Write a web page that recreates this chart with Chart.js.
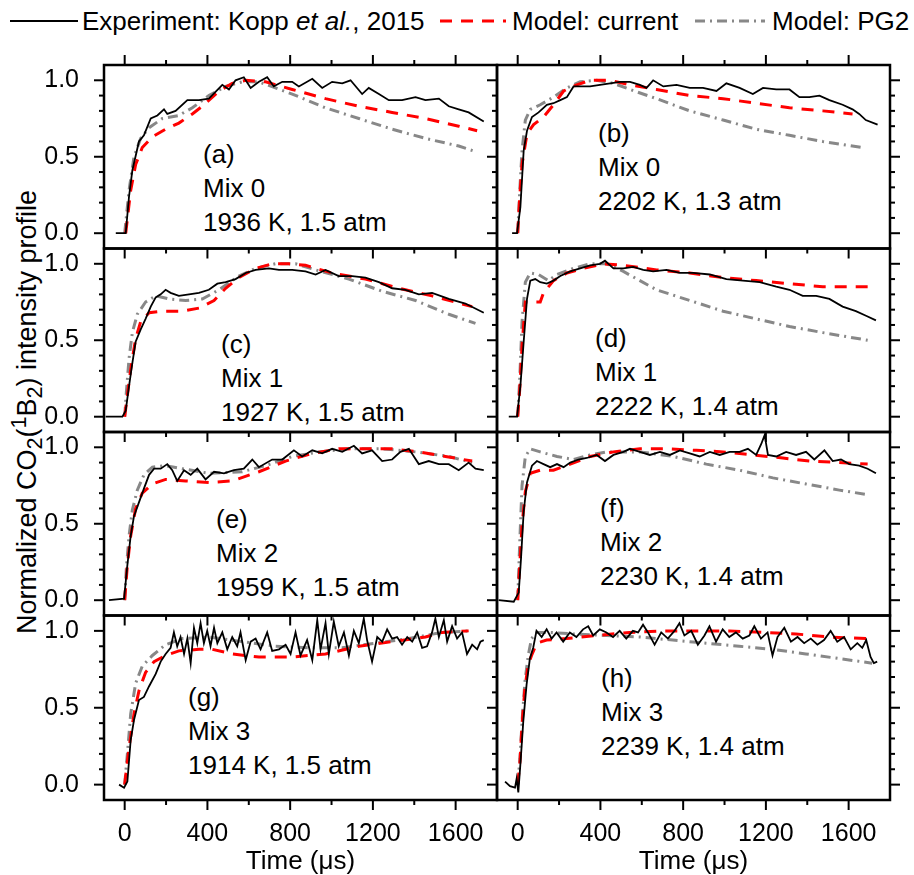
<!DOCTYPE html>
<html lang="en">
<head>
<meta charset="UTF-8">
<title>Normalized CO2(1B2) intensity profiles</title>
<style>
  body { margin: 0; background: #fff; font-family: "Liberation Sans", Arial, sans-serif; color: #000; }
  #wrap { position: relative; width: 914px; height: 875px; overflow: hidden; }
  #wrap canvas { position: absolute; left: 0; top: 0; }
  .leg { position: absolute; top: 6px; font-size: 26px; line-height: 30px; white-space: nowrap; }
  .legline { position: absolute; top: 16px; }
  .note { position: absolute; font-size: 26px; line-height: 34px; white-space: nowrap; }
  .ytitle { position: absolute; left: 27px; top: 412px; font-size: 27px; white-space: nowrap;
            transform: translate(-50%, -50%) rotate(-90deg); }
  .ytitle sub, .ytitle sup { font-size: 0.8em; line-height: 0; }
</style>
</head>
<body>
<div id="wrap">
  <svg class="legline" style="left:10px" width="68" height="10"><line x1="0" y1="5" x2="68" y2="5" stroke="#000" stroke-width="2"/></svg>
  <div class="leg" style="left:82px">Experiment: Kopp <i>et al.</i>, 2015</div>
  <svg class="legline" style="left:440px" width="66" height="10"><line x1="0" y1="5" x2="66" y2="5" stroke="#ff0000" stroke-width="3" stroke-dasharray="12 9"/></svg>
  <div class="leg" style="left:512px">Model: current</div>
  <svg class="legline" style="left:695px" width="70" height="10"><line x1="0" y1="5" x2="70" y2="5" stroke="#888" stroke-width="3" stroke-dasharray="10 5 2 5"/></svg>
  <div class="leg" style="left:772px">Model: PG2</div>

  <div class="ytitle">Normalized CO<sub>2</sub>(<sup>1</sup>B<sub>2</sub>) intensity profile</div>

  <div class="note" style="left:203px; top:137px">(a)<br>Mix 0<br>1936 K, 1.5 atm</div>
  <div class="note" style="left:598px; top:116px">(b)<br>Mix 0<br>2202 K, 1.3 atm</div>
  <div class="note" style="left:221px; top:327px">(c)<br>Mix 1<br>1927 K, 1.5 atm</div>
  <div class="note" style="left:595px; top:321px">(d)<br>Mix 1<br>2222 K, 1.4 atm</div>
  <div class="note" style="left:216px; top:502px">(e)<br>Mix 2<br>1959 K, 1.5 atm</div>
  <div class="note" style="left:600px; top:491px">(f)<br>Mix 2<br>2230 K, 1.4 atm</div>
  <div class="note" style="left:188px; top:680px">(g)<br>Mix 3<br>1914 K, 1.5 atm</div>
  <div class="note" style="left:601px; top:661px">(h)<br>Mix 3<br>2239 K, 1.4 atm</div>
</div>

<script src="https://cdn.jsdelivr.net/npm/chart.js"></script>
<script>
  // axis ticks
  const xMajor = [0, 400, 800, 1200, 1600];
  const xMinor = [200, 600, 1000, 1400];
  const yMajor = [0, 0.5, 1.0];
  const yMinor = [0.1, 0.2, 0.3, 0.4, 0.6, 0.7, 0.8, 0.9];

  // [time (us), normalized intensity]
  const expA = [[-43,0],[5,0],[21,0.24],[37,0.41],[69,0.60],[93,0.64],[126,0.75],[158,0.77],[190,0.81],[206,0.78],[246,0.80],[303,0.87],[359,0.87],[407,0.88],[472,0.97],[504,0.94],[536,1.00],[576,1.02],[609,0.95],[649,0.99],[689,1.02],[721,0.96],[762,0.99],[810,0.99],[842,0.96],[907,1.01],[955,0.95],[1003,0.99],[1052,0.98],[1092,1.00],[1148,0.91],[1180,0.95],[1229,0.91],[1277,0.87],[1341,0.87],[1406,0.89],[1454,0.87],[1519,0.88],[1567,0.83],[1615,0.81],[1663,0.79],[1736,0.73]];
  const curA = [[5,0],[29,0.28],[53,0.45],[85,0.56],[134,0.63],[198,0.68],[262,0.72],[327,0.78],[375,0.83],[456,0.93],[520,0.98],[585,1.00],[681,0.99],[810,0.94],[971,0.88],[1132,0.83],[1293,0.79],[1454,0.75],[1615,0.70],[1704,0.67]];
  const pg2A = [[0,0],[21,0.28],[45,0.50],[77,0.62],[118,0.69],[182,0.75],[262,0.77],[327,0.82],[407,0.90],[488,0.96],[568,0.99],[649,0.99],[729,0.95],[810,0.91],[971,0.82],[1132,0.75],[1293,0.68],[1454,0.62],[1615,0.57],[1704,0.53]];

  const expB = [[-27,0],[-3,0],[13,0.17],[29,0.54],[45,0.67],[69,0.76],[101,0.79],[141,0.84],[173,0.85],[206,0.87],[238,0.89],[270,0.96],[302,0.96],[350,0.96],[398,0.97],[447,0.98],[495,0.99],[543,0.99],[591,0.97],[623,0.95],[655,1.00],[704,0.96],[768,0.97],[832,0.95],[896,0.95],[961,0.93],[1009,0.98],[1073,0.95],[1137,0.91],[1186,0.95],[1250,0.94],[1314,0.94],[1362,0.89],[1410,0.89],[1459,0.90],[1507,0.87],[1571,0.84],[1619,0.81],[1651,0.78],[1683,0.74],[1740,0.71]];
  const curB = [[0,0],[10,0.24],[21,0.45],[45,0.65],[77,0.71],[125,0.76],[173,0.84],[222,0.93],[286,0.97],[350,1.00],[447,1.00],[543,0.97],[671,0.94],[832,0.90],[993,0.88],[1153,0.85],[1314,0.82],[1475,0.80],[1619,0.78]];
  const pg2B = [[0,0],[10,0.28],[21,0.54],[37,0.74],[61,0.81],[109,0.84],[173,0.89],[238,0.95],[302,0.99],[382,1.00],[463,0.98],[543,0.94],[671,0.88],[832,0.80],[993,0.74],[1153,0.68],[1314,0.64],[1475,0.60],[1667,0.56]];

  const expC = [[-92,0],[-11,0],[5,0.04],[21,0.20],[37,0.35],[53,0.49],[77,0.57],[101,0.64],[126,0.72],[150,0.78],[174,0.80],[198,0.83],[222,0.81],[262,0.79],[311,0.80],[359,0.81],[407,0.83],[448,0.87],[488,0.88],[536,0.90],[585,0.94],[633,0.96],[697,0.97],[746,0.96],[810,0.96],[874,0.95],[923,0.93],[971,0.96],[1035,0.92],[1100,0.92],[1164,0.91],[1229,0.88],[1293,0.84],[1357,0.83],[1422,0.80],[1486,0.81],[1567,0.77],[1647,0.74],[1736,0.68]];
  const curC = [[0,0],[13,0.14],[29,0.31],[53,0.51],[77,0.62],[118,0.68],[182,0.69],[279,0.69],[359,0.71],[432,0.76],[488,0.84],[552,0.91],[633,0.97],[713,1.00],[794,1.00],[874,0.99],[1003,0.94],[1164,0.90],[1325,0.84],[1486,0.79],[1680,0.72]];
  const pg2C = [[0,0],[8,0.16],[21,0.38],[37,0.55],[61,0.67],[101,0.75],[150,0.79],[214,0.77],[295,0.76],[375,0.77],[456,0.83],[552,0.92],[633,0.97],[729,1.00],[826,1.00],[923,0.96],[1084,0.90],[1245,0.82],[1406,0.76],[1567,0.67],[1696,0.61]];

  const expD = [[-43,0],[-3,0],[13,0.20],[29,0.49],[45,0.77],[61,0.89],[85,0.90],[109,0.88],[141,0.87],[173,0.89],[206,0.92],[254,0.95],[302,0.97],[350,0.99],[398,1.00],[422,1.02],[463,0.97],[511,0.97],[559,0.98],[607,0.96],[655,0.95],[720,0.96],[784,0.94],[848,0.94],[929,0.93],[1009,0.90],[1089,0.89],[1170,0.88],[1250,0.85],[1314,0.83],[1378,0.79],[1443,0.79],[1507,0.77],[1571,0.72],[1635,0.69],[1684,0.66],[1732,0.63]];
  const curD = [[0,0],[10,0.18],[21,0.46],[37,0.75],[61,0.75],[109,0.75],[125,0.81],[173,0.89],[238,0.94],[318,0.97],[414,1.00],[511,0.99],[671,0.96],[832,0.94],[993,0.91],[1153,0.89],[1314,0.87],[1475,0.85],[1692,0.85]];
  const pg2D = [[0,0],[10,0.25],[21,0.62],[37,0.88],[61,0.94],[101,0.93],[149,0.89],[190,0.93],[270,0.97],[350,1.00],[430,1.00],[511,0.95],[591,0.89],[671,0.83],[832,0.76],[993,0.69],[1153,0.64],[1314,0.59],[1475,0.55],[1692,0.50]];

  const expE = [[-76,0],[-3,0.01],[13,0.23],[29,0.42],[45,0.55],[69,0.64],[93,0.73],[118,0.82],[142,0.86],[174,0.86],[206,0.89],[230,0.85],[254,0.78],[287,0.85],[319,0.82],[351,0.86],[391,0.79],[432,0.84],[480,0.83],[528,0.85],[576,0.86],[617,0.92],[649,0.87],[713,0.92],[762,0.92],[818,0.98],[858,0.94],[907,0.98],[955,0.96],[1003,0.99],[1052,0.97],[1108,1.01],[1148,0.96],[1196,0.98],[1245,0.91],[1293,0.92],[1333,0.97],[1374,0.99],[1422,0.89],[1470,0.91],[1519,0.89],[1567,0.89],[1615,0.85],[1663,0.90],[1696,0.86],[1736,0.85]];
  const curE = [[0,0],[13,0.23],[29,0.42],[53,0.60],[85,0.70],[134,0.76],[198,0.79],[295,0.78],[407,0.77],[520,0.78],[649,0.84],[778,0.91],[907,0.96],[1035,0.99],[1164,0.99],[1293,0.99],[1422,0.97],[1551,0.94],[1680,0.91]];
  const pg2E = [[0,0],[8,0.21],[21,0.42],[37,0.59],[61,0.72],[93,0.82],[134,0.87],[198,0.88],[279,0.86],[407,0.83],[568,0.84],[681,0.88],[810,0.94],[939,0.97],[1084,0.99],[1245,0.99],[1406,0.97],[1567,0.94],[1680,0.90]];

  const expF = [[-92,0],[-19,-0.01],[5,0.05],[16,0.27],[29,0.58],[45,0.77],[69,0.88],[93,0.91],[125,0.89],[157,0.87],[190,0.89],[222,0.87],[254,0.90],[294,0.92],[334,0.93],[382,0.95],[422,0.91],[463,0.95],[511,0.97],[543,0.99],[591,0.97],[639,0.95],[688,0.97],[736,0.95],[784,0.98],[832,0.96],[880,0.94],[929,0.97],[977,0.95],[1025,0.97],[1073,0.97],[1113,0.99],[1153,0.95],[1177,1.02],[1194,1.08],[1210,0.95],[1250,0.94],[1298,0.97],[1346,0.95],[1394,0.97],[1434,0.92],[1483,0.98],[1523,0.91],[1563,0.92],[1603,0.89],[1651,0.88],[1692,0.86],[1732,0.83]];
  const curF = [[0,0],[10,0.23],[21,0.49],[37,0.71],[61,0.83],[109,0.85],[173,0.85],[254,0.89],[350,0.94],[463,0.97],[591,0.99],[720,0.99],[864,0.98],[993,0.97],[1137,0.95],[1282,0.93],[1410,0.91],[1555,0.90],[1692,0.89]];
  const pg2F = [[0,0],[10,0.38],[21,0.75],[37,0.94],[61,0.99],[109,0.97],[190,0.94],[270,0.92],[350,0.95],[430,0.97],[511,0.97],[591,0.97],[752,0.94],[912,0.89],[1073,0.85],[1234,0.80],[1394,0.76],[1555,0.72],[1692,0.69]];

  const expG = [[-27,0],[-3,-0.02],[13,0.02],[29,0.29],[45,0.42],[69,0.55],[93,0.57],[118,0.64],[150,0.72],[174,0.80],[198,0.85],[222,0.89],[238,0.99],[254,0.90],[270,0.96],[287,0.85],[303,0.95],[319,0.79],[335,1.02],[351,0.92],[367,1.05],[383,0.92],[399,1.00],[415,0.90],[432,1.02],[448,0.92],[472,0.99],[496,0.88],[520,0.96],[544,0.90],[560,0.99],[585,0.81],[609,0.93],[633,0.95],[657,0.88],[689,0.99],[713,0.87],[746,0.88],[778,0.91],[802,0.85],[826,0.99],[850,0.84],[882,0.94],[907,0.81],[931,1.07],[947,0.88],[971,1.05],[987,0.85],[1011,1.06],[1035,0.90],[1060,0.99],[1084,0.84],[1108,1.00],[1132,0.92],[1156,1.08],[1172,0.94],[1196,0.80],[1221,0.96],[1245,0.93],[1269,1.01],[1293,0.95],[1317,0.96],[1341,0.91],[1366,0.96],[1390,0.93],[1414,0.99],[1438,0.89],[1462,0.90],[1486,0.99],[1502,1.08],[1519,0.96],[1543,1.07],[1559,0.93],[1583,1.03],[1607,0.95],[1631,0.99],[1655,0.85],[1680,0.91],[1704,0.88],[1720,0.93],[1736,0.94]];
  const curG = [[0,0],[5,0.06],[21,0.24],[45,0.46],[69,0.61],[101,0.73],[142,0.80],[198,0.84],[262,0.87],[359,0.88],[424,0.88],[520,0.85],[649,0.83],[810,0.83],[971,0.85],[1132,0.90],[1293,0.93],[1454,0.96],[1535,0.99],[1663,1.00]];
  const pg2G = [[0,0],[13,0.20],[29,0.46],[53,0.66],[85,0.77],[134,0.84],[198,0.91],[279,0.95],[407,0.96],[568,0.93],[729,0.90],[890,0.89],[1052,0.89],[1213,0.92],[1374,0.95],[1535,0.99],[1680,1.00]];

  const expH = [[-61,0.02],[-37,-0.01],[-13,-0.02],[-5,0.04],[3,-0.05],[14,0.15],[27,0.41],[43,0.65],[59,0.82],[75,0.89],[91,1.00],[116,0.96],[140,1.01],[164,0.95],[188,0.99],[220,0.93],[252,0.99],[284,0.96],[316,1.01],[341,1.03],[365,0.97],[397,1.01],[429,0.99],[461,0.96],[493,1.00],[525,0.95],[557,1.00],[582,0.99],[606,1.04],[630,0.99],[662,0.91],[694,0.99],[726,0.95],[758,1.00],[782,1.05],[806,0.97],[839,1.00],[871,0.91],[903,0.97],[927,1.03],[959,0.93],[991,1.01],[1023,0.96],[1055,0.99],[1088,0.95],[1120,0.97],[1144,1.03],[1176,0.95],[1208,0.99],[1232,0.84],[1256,0.96],[1289,1.02],[1321,0.93],[1353,0.96],[1385,0.92],[1417,0.95],[1449,0.91],[1481,0.94],[1513,1.00],[1545,0.93],[1578,0.96],[1610,0.88],[1642,0.92],[1666,0.89],[1685,0.94],[1706,0.83],[1722,0.79],[1738,0.80]];
  const curH = [[0,0],[11,0.15],[22,0.41],[35,0.63],[51,0.78],[67,0.84],[92,0.92],[140,0.94],[236,0.95],[381,0.97],[541,0.99],[702,1.00],[863,1.00],[1023,1.00],[1184,0.99],[1345,0.98],[1505,0.96],[1690,0.95]];
  const pg2H = [[0,0],[11,0.17],[22,0.43],[35,0.67],[51,0.84],[67,0.95],[92,0.99],[156,0.99],[268,0.98],[429,0.97],[590,0.96],[750,0.94],[911,0.92],[1071,0.90],[1232,0.88],[1393,0.85],[1553,0.82],[1714,0.79]];

  // panel frames in page pixels
  const colEdges = [[104, 497], [497, 890]];
  const rowEdges = [65, 248.5, 432, 615.5, 800];

  const panels = [
    { exp: expA, cur: curA, pg2: pg2A, col: 0, row: 0 },
    { exp: expB, cur: curB, pg2: pg2B, col: 1, row: 0 },
    { exp: expC, cur: curC, pg2: pg2C, col: 0, row: 1 },
    { exp: expD, cur: curD, pg2: pg2D, col: 1, row: 1 },
    { exp: expE, cur: curE, pg2: pg2E, col: 0, row: 2 },
    { exp: expF, cur: curF, pg2: pg2F, col: 1, row: 2 },
    { exp: expG, cur: curG, pg2: pg2G, col: 0, row: 3 },
    { exp: expH, cur: curH, pg2: pg2H, col: 1, row: 3 }
  ];

  Chart.defaults.font.family = '"Liberation Sans", Arial, sans-serif';
  Chart.defaults.color = '#000';

  // box around each panel plus outward major/minor ticks
  const frameTicks = {
    id: 'frameTicks',
    afterDraw(chart, args, opts) {
      const { ctx, chartArea: a, scales: { x, y } } = chart;
      const seg = (x1, y1, x2, y2) => { ctx.beginPath(); ctx.moveTo(x1, y1); ctx.lineTo(x2, y2); ctx.stroke(); };
      ctx.save();
      ctx.strokeStyle = '#000';
      ctx.lineWidth = 2.5;
      ctx.strokeRect(a.left, a.top, a.right - a.left, a.bottom - a.top);
      ctx.lineWidth = 2;
      const xt = xMajor.map(v => [v, 10]).concat(xMinor.map(v => [v, 5]));
      const yt = yMajor.map(v => [v, 10]).concat(yMinor.map(v => [v, 5]));
      xt.forEach(([v, len]) => {
        const px = x.getPixelForValue(v);
        seg(px, a.bottom, px, a.bottom + len);
        if (opts.top) seg(px, a.top, px, a.top - len);
      });
      yt.forEach(([v, len]) => {
        const py = y.getPixelForValue(v);
        seg(a.left, py, a.left - len, py);
        if (opts.right) seg(a.right, py, a.right + len, py);
      });
      ctx.restore();
    }
  };

  const toXY = pts => pts.map(([x, y]) => ({ x, y }));

  function makePanel(p) {
    const [l, r] = colEdges[p.col];
    const t = rowEdges[p.row], b = rowEdges[p.row + 1];
    const isLeft = p.col === 0;
    const isBottom = p.row === 3;

    const cv = document.createElement('canvas');
    cv.width = 914;
    cv.height = 875;
    document.getElementById('wrap').appendChild(cv);

    new Chart(cv, {
      type: 'line',
      data: {
        datasets: [
          { label: 'Experiment', data: toXY(p.exp), borderColor: '#000', borderWidth: 1.8 },
          { label: 'Model: current', data: toXY(p.cur), borderColor: '#ff0000', borderWidth: 3, borderDash: [12, 9] },
          { label: 'Model: PG2', data: toXY(p.pg2), borderColor: '#888', borderWidth: 3, borderDash: [10, 5, 2, 5] }
        ]
      },
      options: {
        responsive: false,
        animation: false,
        events: [],
        layout: {
          padding: { left: isLeft ? 0 : l, right: 914 - r, top: t, bottom: isBottom ? 0 : 875 - b }
        },
        elements: { point: { radius: 0 }, line: { tension: 0, fill: false } },
        plugins: {
          legend: { display: false },
          tooltip: { enabled: false },
          frameTicks: { top: p.row === 0, right: p.col === 1 }
        },
        scales: {
          x: {
            type: 'linear', min: -100, max: 1800,
            grid: { display: false }, border: { display: false },
            afterBuildTicks: s => { s.ticks = xMajor.map(v => ({ value: v })); },
            afterFit: s => { s.height = isBottom ? 75 : 0; },
            ticks: { display: isBottom, padding: 11, font: { size: 25 }, maxRotation: 0, autoSkip: false,
                     callback: v => String(v) },
            title: { display: isBottom, text: 'Time (μs)', font: { size: 26, lineHeight: 1 }, padding: { top: 0, bottom: 0 } }
          },
          y: {
            type: 'linear', min: -0.1, max: 1.1,
            grid: { display: false }, border: { display: false },
            afterBuildTicks: s => { s.ticks = yMajor.map(v => ({ value: v })); },
            afterFit: s => { s.width = isLeft ? l : 0; },
            ticks: { display: isLeft, padding: 17, font: { size: 25 }, callback: v => v.toFixed(1) }
          }
        }
      },
      plugins: [frameTicks]
    });
  }

  panels.forEach(makePanel);
</script>
</body>
</html>
